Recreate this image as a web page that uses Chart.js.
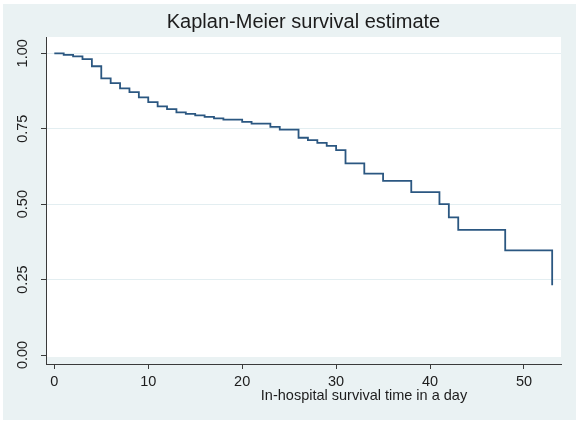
<!DOCTYPE html>
<html>
<head>
<meta charset="utf-8">
<script src="https://cdn.jsdelivr.net/npm/chart.js@4/dist/chart.umd.min.js"></script>
<style>
  html, body { margin: 0; padding: 0; background: #ffffff; }
  #wrap { width: 580px; height: 425px; }
</style>
</head>
<body>
<div id="wrap"><canvas id="c" width="580" height="425"></canvas></div>
<script>
// ---- Data ----
const chartTitle = 'Kaplan-Meier survival estimate';
const xAxisTitle = 'In-hospital survival time in a day';
const days = [0, 1, 2, 3, 4, 5, 6, 7, 8, 9, 10, 11, 12, 13, 14, 15, 16, 17, 18, 20, 21, 23, 24, 26, 27, 28, 29, 30, 31, 33, 35, 38, 41, 42, 43, 48, 53];
const survival = [1.000, 0.995, 0.990, 0.981, 0.957, 0.917, 0.901, 0.884, 0.871, 0.854, 0.838, 0.824, 0.815, 0.804, 0.799, 0.794, 0.789, 0.784, 0.780, 0.773, 0.767, 0.756, 0.747, 0.720, 0.712, 0.703, 0.693, 0.679, 0.635, 0.601, 0.577, 0.540, 0.500, 0.456, 0.415, 0.347, 0.231];
const xTickValues = [0, 10, 20, 30, 40, 50];
const xTickLabels = ['0', '10', '20', '30', '40', '50'];
const yTickValues = [0, 0.25, 0.5, 0.75, 1];
const yTickLabels = ['0.00', '0.25', '0.50', '0.75', '1.00'];

const FONT = "'Liberation Sans', Arial, Helvetica, sans-serif";
const TEXT = '#1c1c1c';
const AXIS = '#3a3a3a';

const stataLook = {
  id: 'stataLook',
  beforeDraw(chart) {
    const { ctx, chartArea: a } = chart;
    ctx.save();
    ctx.fillStyle = '#ffffff';
    ctx.fillRect(0, 0, chart.width, chart.height);
    ctx.fillStyle = '#eaf2f3';
    ctx.fillRect(3, 4, 573, 416);
    ctx.fillStyle = '#ffffff';
    ctx.fillRect(a.left, a.top, a.right - a.left, a.bottom - 7 - a.top);
    ctx.restore();
  },
  afterDraw(chart) {
    const { ctx } = chart;
    ctx.save();
    ctx.font = '14.5px ' + FONT;
    ctx.fillStyle = TEXT;
    ctx.textAlign = 'center';
    ctx.textBaseline = 'alphabetic';
    ctx.fillText(xAxisTitle, 364, 399.5);
    ctx.restore();
  }
};

const points = days.map((d, i) => ({ x: d, y: survival[i] }));

new Chart(document.getElementById('c'), {
  type: 'line',
  data: {
    datasets: [{
      data: points,
      stepped: true,
      borderColor: '#2b5781',
      borderWidth: 1.8,
      pointRadius: 0,
      fill: false,
      tension: 0
    }]
  },
  options: {
    responsive: false,
    animation: false,
    devicePixelRatio: 1,
    layout: { padding: { left: 0, right: 19, top: 0, bottom: 0 } },
    plugins: {
      legend: { display: false },
      tooltip: { enabled: false },
      title: {
        display: true,
        text: chartTitle,
        fullSize: false,
        color: TEXT,
        font: { family: FONT, size: 20, weight: 'normal', lineHeight: 1.2 },
        padding: { top: 10, bottom: 3 }
      }
    },
    scales: {
      x: {
        type: 'linear',
        min: -0.884,
        max: 53.94,
        afterBuildTicks(s) { s.ticks = xTickValues.map(v => ({ value: v })); },
        afterFit(s) { s.height = 61; },
        ticks: {
          color: TEXT,
          font: { family: FONT, size: 14.5 },
          padding: 4,
          maxRotation: 0,
          minRotation: 0,
          callback: (v) => xTickLabels[xTickValues.indexOf(v)]
        },
        grid: { drawOnChartArea: false, drawTicks: true, tickLength: 5, tickColor: AXIS, tickWidth: 1 },
        border: { display: true, color: AXIS, width: 1 }
      },
      y: {
        type: 'linear',
        min: -0.0298,
        max: 1.054,
        afterBuildTicks(s) { s.ticks = yTickValues.map(v => ({ value: v })); },
        afterFit(s) { s.width = 46; },
        ticks: {
          color: TEXT,
          font: { family: FONT, size: 14.5 },
          padding: 4,
          minRotation: 90,
          maxRotation: 90,
          crossAlign: 'center',
          callback: (v) => yTickLabels[yTickValues.indexOf(v)]
        },
        grid: {
          drawOnChartArea: true,
          drawTicks: true,
          tickLength: 5,
          tickColor: AXIS,
          tickWidth: 1,
          lineWidth: 1,
          color: (c) => (c.tick && c.tick.value === 0) ? 'rgba(0,0,0,0)' : '#e3eef1'
        },
        border: { display: true, color: AXIS, width: 1 }
      }
    }
  },
  plugins: [stataLook]
});
</script>
</body>
</html>
